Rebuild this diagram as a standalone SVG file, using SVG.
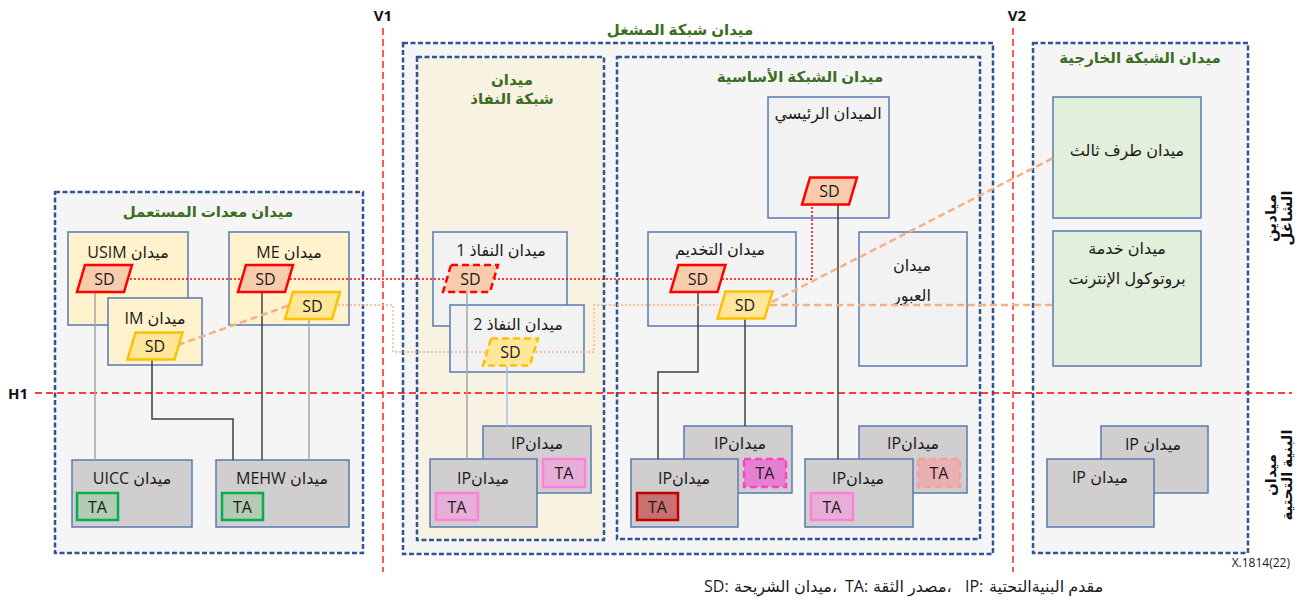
<svg xmlns="http://www.w3.org/2000/svg" xmlns:xlink="http://www.w3.org/1999/xlink" width="1308" height="604" viewBox="0 0 1308 604">
<style>
.cont{fill:#f5f5f5;stroke:#2f5597;stroke-width:2.5;stroke-dasharray:5 2.5}
.acc{fill:#f8f2e3}
.box{stroke:#5a7ab0;stroke-width:1.5}
.ue{fill:#fff2cc}.lt{fill:#f2f2f2}.gr{fill:#d0cece}.ext{fill:#e2efda}
.sdr{fill:#f8cbad;stroke:#ff0000;stroke-width:2.5}
.sdy{fill:#ffe699;stroke:#ffc000;stroke-width:2.5}
.dsh{stroke-dasharray:7 4}
.t{font-family:"Open Sans","DejaVu Sans",sans-serif;font-size:16px;fill:#1a1a1a;text-anchor:middle}
.st{text-anchor:start}
.sdt{font-size:16px}
.ttl{font-weight:bold;fill:#3b6d22;font-size:15px}
.bk{font-weight:bold;fill:#111;font-size:15px}
.ta{stroke-width:2.5}
.tag{fill:#b3cbb3;stroke:#00b050}
.tap{fill:#e6aed8;stroke:#ff80d6}
.tam{fill:#e47fd2;stroke:#ff40c8;stroke-dasharray:7 4}
.tar{fill:#c97070;stroke:#c00000}
.tal{fill:#e8b0b0;stroke:#f4a0a0;stroke-dasharray:7 4}
.ref{fill:none;stroke:#ff0000;stroke-width:1.3;stroke-dasharray:7 4}
.lg{fill:none;stroke:#a6a6a6;stroke-width:1.5}
.lb{fill:none;stroke:#404040;stroke-width:1.5}
.lbl{fill:none;stroke:#9dc3e6;stroke-width:1.5}
.rdot{fill:none;stroke:#ff0000;stroke-width:1.5;stroke-dasharray:2 2}
.odot{fill:none;stroke:#f4b183;stroke-width:1.3;stroke-dasharray:2 2}
.odash{fill:none;stroke:#f4b183;stroke-width:2.5;stroke-dasharray:7 4}
</style>
<defs>
<path id="sd" d="M-19.5,-13.5 H27.5 L19.5,13.5 H-27.5 Z"/>
</defs>
<rect width="1308" height="604" fill="#ffffff"/>

<!-- containers -->
<g id="ue-domain">
<rect class="cont" x="55" y="192" width="308" height="361"/>
<text class="t ttl" direction="rtl" x="208" y="217">ميدان معدات المستعمل</text>
</g>
<g id="operator-domain">
<rect class="cont" x="403" y="43" width="590" height="511"/>
<text class="t ttl" direction="rtl" x="680" y="35">ميدان شبكة المشغل</text>
</g>
<g id="access-domain">
<rect class="cont acc" x="417" y="57" width="187" height="483"/>
<text class="t ttl" direction="rtl" x="512" y="85">ميدان</text>
<text class="t ttl" direction="rtl" x="512" y="104">شبكة النفاذ</text>
</g>
<g id="core-domain">
<rect class="cont" x="617" y="57" width="363" height="482"/>
<text class="t ttl" direction="rtl" x="800" y="82">ميدان الشبكة الأساسية</text>
</g>
<g id="external-domain">
<rect class="cont" x="1033" y="43" width="215" height="510"/>
<text class="t ttl" direction="rtl" x="1140" y="63">ميدان الشبكة الخارجية</text>
</g>

<!-- reference lines -->
<g id="ref-lines">
<line class="ref" x1="383" y1="28" x2="383" y2="572"/>
<line class="ref" x1="1013" y1="28" x2="1013" y2="572"/>
<line class="ref" x1="35" y1="393" x2="1292" y2="393"/>
<text class="t bk" x="383" y="21">V1</text>
<text class="t bk" x="1017" y="21">V2</text>
<text class="t bk" x="18" y="399">H1</text>
<text class="t bk" direction="rtl" transform="translate(1276,218) rotate(-90)">ميادين</text>
<text class="t bk" direction="rtl" transform="translate(1292,218) rotate(-90)">الشاغل</text>
<text class="t bk" direction="rtl" transform="translate(1276,475) rotate(-90)">ميدان</text>
<text class="t bk" direction="rtl" transform="translate(1292,475) rotate(-90)">البنية التحتية</text>
</g>

<!-- boxes -->
<g id="usim"><rect class="box ue" x="68" y="232" width="120" height="93"/><text class="t" direction="rtl" x="128" y="258">ميدان USIM</text></g>
<g id="me"><rect class="box ue" x="229" y="232" width="120" height="93"/><text class="t" direction="rtl" x="289" y="258">ميدان ME</text></g>
<g id="im"><rect class="box ue" x="108" y="298" width="94" height="67"/><text class="t" direction="rtl" x="155" y="324">ميدان IM</text></g>
<g id="uicc"><rect class="box gr" x="72" y="460" width="120" height="67"/><text class="t" direction="rtl" x="132" y="484">ميدان UICC</text>
<rect class="ta tag" x="77" y="493" width="41" height="27"/><text class="t sdt" x="97.5" y="512.5">TA</text></g>
<g id="mehw"><rect class="box gr" x="216" y="460" width="133" height="67"/><text class="t" direction="rtl" x="282" y="484">ميدان MEHW</text>
<rect class="ta tag" x="222" y="493" width="41" height="27"/><text class="t sdt" x="242.5" y="512.5">TA</text></g>

<g id="access1"><rect class="box lt" x="433" y="232" width="134" height="94"/><text class="t" direction="rtl" x="501" y="256">ميدان النفاذ 1</text></g>
<g id="access2"><rect class="box lt" x="450" y="305" width="134" height="67"/><text class="t" direction="rtl" x="518" y="330">ميدان النفاذ 2</text></g>
<g id="acc-ip-back"><rect class="box gr" x="483" y="426" width="108" height="67"/><text class="t" direction="rtl" x="537" y="449">ميدانIP</text>
<rect class="ta tap" x="543" y="459" width="42" height="28"/><text class="t sdt" x="564" y="479">TA</text></g>
<g id="acc-ip-front"><rect class="box gr" x="430" y="459" width="107" height="68"/><text class="t" direction="rtl" x="483" y="484">ميدانIP</text>
<rect class="ta tap" x="436" y="493" width="42" height="27"/><text class="t sdt" x="457" y="512.5">TA</text></g>

<g id="home"><rect class="box lt" x="768" y="97" width="121" height="121"/><text class="t" direction="rtl" x="828" y="119">الميدان الرئيسي</text></g>
<g id="serving"><rect class="box lt" x="648" y="232" width="148" height="94"/><text class="t" direction="rtl" x="720" y="255">ميدان التخديم</text></g>
<g id="transit"><rect class="box lt" x="859" y="232" width="108" height="134"/><text class="t" direction="rtl" x="912" y="271">ميدان</text><text class="t" direction="rtl" x="912" y="301">العبور</text></g>
<g id="core-ip1-back"><rect class="box gr" x="684" y="426" width="108" height="67"/><text class="t" direction="rtl" x="740" y="449">ميدانIP</text>
<rect class="ta tam" x="744" y="459" width="42" height="28"/><text class="t sdt" x="765" y="479">TA</text></g>
<g id="core-ip1-front"><rect class="box gr" x="631" y="459" width="107" height="68"/><text class="t" direction="rtl" x="684" y="484">ميدانIP</text>
<rect class="ta tar" x="637" y="493" width="41" height="27"/><text class="t sdt" x="657.5" y="512.5">TA</text></g>
<g id="core-ip2-back"><rect class="box gr" x="859" y="426" width="108" height="67"/><text class="t" direction="rtl" x="913" y="449">ميدانIP</text>
<rect class="ta tal" x="918" y="459" width="42" height="28"/><text class="t sdt" x="939" y="479">TA</text></g>
<g id="core-ip2-front"><rect class="box gr" x="805" y="459" width="108" height="68"/><text class="t" direction="rtl" x="858" y="484">ميدانIP</text>
<rect class="ta tap" x="811" y="493" width="42" height="27"/><text class="t sdt" x="832" y="512.5">TA</text></g>

<g id="third-party"><rect class="box ext" x="1053" y="97" width="148" height="121"/><text class="t" direction="rtl" x="1127" y="156">ميدان طرف ثالث</text></g>
<g id="ip-service"><rect class="box ext" x="1053" y="231" width="148" height="135"/><text class="t" direction="rtl" x="1127" y="254">ميدان خدمة</text><text class="t" direction="rtl" x="1127" y="284">بروتوكول الإنترنت</text></g>
<g id="ext-ip-back"><rect class="box gr" x="1101" y="426" width="107" height="67"/><text class="t" direction="rtl" x="1153" y="450">ميدان IP</text></g>
<g id="ext-ip-front"><rect class="box gr" x="1047" y="459" width="107" height="68"/><text class="t" direction="rtl" x="1100" y="483">ميدان IP</text></g>

<!-- connectors -->
<g id="connectors">
<path class="lg" d="M95,292 V460"/>
<path class="lb" d="M152,360 V419 H233 V460"/>
<path class="lb" d="M262,292 V460"/>
<path class="lg" d="M309,319 V460"/>
<path class="lg" d="M467,292 V459"/>
<path class="lbl" d="M507,366 V426"/>
<path class="lb" d="M838,205 V459"/>
<path class="lb" d="M698,293 V372 H658 V459"/>
<path class="lb" d="M745,319 V426"/>
<path class="rdot" d="M130,279 H812 V205"/>
<path class="odot" d="M338,305 H393 V352 H485"/>
<path class="odot" d="M536,352 H594 V305 H718"/>
<path class="odash" d="M178,345 L290,305"/>
<path class="odash" d="M772,302 L1053,158"/>
<path class="odash" d="M770,305 H1053"/>
</g>

<!-- security domains -->
<g id="sd-usim"><use href="#sd" x="104.5" y="278.5" class="sdr"/><text class="t sdt" x="104.5" y="284.5">SD</text></g>
<g id="sd-me-r"><use href="#sd" x="265.5" y="278.5" class="sdr"/><text class="t sdt" x="265.5" y="284.5">SD</text></g>
<g id="sd-me-y"><use href="#sd" x="312.5" y="305.5" class="sdy"/><text class="t sdt" x="312.5" y="311.5">SD</text></g>
<g id="sd-im"><use href="#sd" x="155" y="346" class="sdy"/><text class="t sdt" x="155" y="352">SD</text></g>
<g id="sd-acc1"><use href="#sd" x="470.5" y="278.5" class="sdr dsh"/><text class="t sdt" x="470.5" y="284.5">SD</text></g>
<g id="sd-acc2"><use href="#sd" x="510.5" y="352" class="sdy dsh"/><text class="t sdt" x="510.5" y="358">SD</text></g>
<g id="sd-home"><use href="#sd" x="829.5" y="191" class="sdr"/><text class="t sdt" x="829.5" y="197">SD</text></g>
<g id="sd-serv-r"><use href="#sd" x="698" y="278.5" class="sdr"/><text class="t sdt" x="698" y="284.5">SD</text></g>
<g id="sd-serv-y"><use href="#sd" x="745" y="305" class="sdy"/><text class="t sdt" x="745" y="311">SD</text></g>

<g id="legend">
<text class="t" x="1290" y="567" style="font-size:12px;text-anchor:end">X.1814(22)</text>
<text class="t st" direction="ltr" x="704" y="592">SD:</text>
<text class="t st" direction="ltr" x="734" y="592">ميدان الشريحة،</text>
<text class="t st" direction="ltr" x="845" y="592">TA:</text>
<text class="t st" direction="ltr" x="873" y="592">مصدر الثقة،</text>
<text class="t st" direction="ltr" x="965" y="592">IP:</text>
<text class="t st" direction="ltr" x="989" y="592">مقدم البنيةالتحتية</text>
</g>
</svg>
